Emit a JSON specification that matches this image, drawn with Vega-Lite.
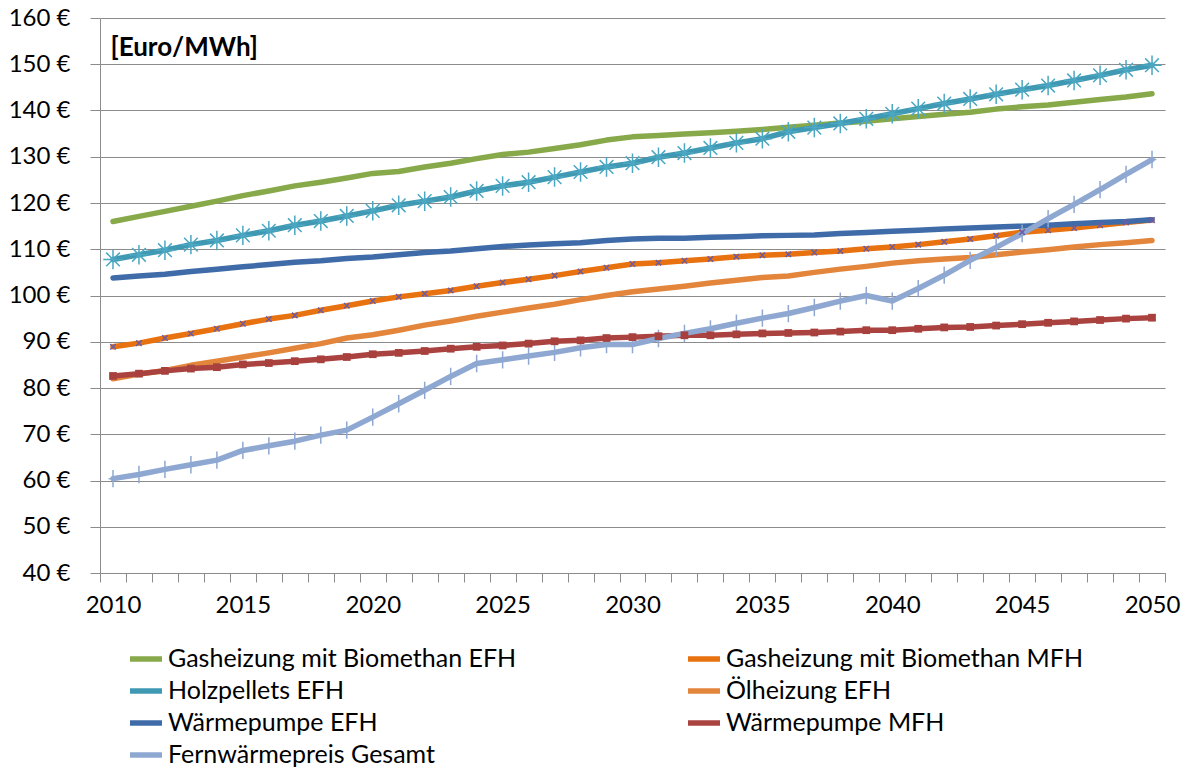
{
  "$schema": "https://vega.github.io/schema/vega-lite/v6.json",
  "width": 1065,
  "height": 555,
  "autosize": "none",
  "padding": {"left": 100, "top": 18, "right": 25, "bottom": 198},
  "background": "white",
  "config": {
    "view": {"stroke": null},
    "font": "Lato",
    "axis": {"labelFont": "Lato", "titleFont": "Lato", "labelColor": "black", "titleColor": "black"},
    "legend": {"labelFont": "Lato"}
  },
  "data": {
    "values": [
      {"year": 2010, "Gasheizung mit Biomethan EFH": 116.0, "Gasheizung mit Biomethan MFH": 88.9, "Holzpellets EFH": 107.8, "Ölheizung EFH": 82.0, "Wärmepumpe EFH": 103.8, "Wärmepumpe MFH": 82.6, "Fernwärmepreis Gesamt": 60.4},
      {"year": 2011, "Gasheizung mit Biomethan EFH": 117.1, "Gasheizung mit Biomethan MFH": 89.7, "Holzpellets EFH": 108.8, "Ölheizung EFH": 83.0, "Wärmepumpe EFH": 104.2, "Wärmepumpe MFH": 83.1, "Fernwärmepreis Gesamt": 61.3},
      {"year": 2012, "Gasheizung mit Biomethan EFH": 118.2, "Gasheizung mit Biomethan MFH": 90.8, "Holzpellets EFH": 109.8, "Ölheizung EFH": 83.8, "Wärmepumpe EFH": 104.6, "Wärmepumpe MFH": 83.7, "Fernwärmepreis Gesamt": 62.4},
      {"year": 2013, "Gasheizung mit Biomethan EFH": 119.3, "Gasheizung mit Biomethan MFH": 91.8, "Holzpellets EFH": 111.0, "Ölheizung EFH": 84.9, "Wärmepumpe EFH": 105.2, "Wärmepumpe MFH": 84.2, "Fernwärmepreis Gesamt": 63.4},
      {"year": 2014, "Gasheizung mit Biomethan EFH": 120.4, "Gasheizung mit Biomethan MFH": 92.8, "Holzpellets EFH": 111.9, "Ölheizung EFH": 85.8, "Wärmepumpe EFH": 105.7, "Wärmepumpe MFH": 84.5, "Fernwärmepreis Gesamt": 64.4},
      {"year": 2015, "Gasheizung mit Biomethan EFH": 121.6, "Gasheizung mit Biomethan MFH": 93.9, "Holzpellets EFH": 113.0, "Ölheizung EFH": 86.7, "Wärmepumpe EFH": 106.2, "Wärmepumpe MFH": 85.1, "Fernwärmepreis Gesamt": 66.5},
      {"year": 2016, "Gasheizung mit Biomethan EFH": 122.6, "Gasheizung mit Biomethan MFH": 94.9, "Holzpellets EFH": 114.0, "Ölheizung EFH": 87.6, "Wärmepumpe EFH": 106.7, "Wärmepumpe MFH": 85.4, "Fernwärmepreis Gesamt": 67.5},
      {"year": 2017, "Gasheizung mit Biomethan EFH": 123.7, "Gasheizung mit Biomethan MFH": 95.7, "Holzpellets EFH": 115.2, "Ölheizung EFH": 88.6, "Wärmepumpe EFH": 107.2, "Wärmepumpe MFH": 85.8, "Fernwärmepreis Gesamt": 68.5},
      {"year": 2018, "Gasheizung mit Biomethan EFH": 124.5, "Gasheizung mit Biomethan MFH": 96.8, "Holzpellets EFH": 116.1, "Ölheizung EFH": 89.6, "Wärmepumpe EFH": 107.5, "Wärmepumpe MFH": 86.2, "Fernwärmepreis Gesamt": 69.8},
      {"year": 2019, "Gasheizung mit Biomethan EFH": 125.4, "Gasheizung mit Biomethan MFH": 97.8, "Holzpellets EFH": 117.2, "Ölheizung EFH": 90.8, "Wärmepumpe EFH": 108.0, "Wärmepumpe MFH": 86.7, "Fernwärmepreis Gesamt": 70.9},
      {"year": 2020, "Gasheizung mit Biomethan EFH": 126.4, "Gasheizung mit Biomethan MFH": 98.8, "Holzpellets EFH": 118.3, "Ölheizung EFH": 91.5, "Wärmepumpe EFH": 108.3, "Wärmepumpe MFH": 87.3, "Fernwärmepreis Gesamt": 73.7},
      {"year": 2021, "Gasheizung mit Biomethan EFH": 126.8, "Gasheizung mit Biomethan MFH": 99.7, "Holzpellets EFH": 119.5, "Ölheizung EFH": 92.5, "Wärmepumpe EFH": 108.8, "Wärmepumpe MFH": 87.6, "Fernwärmepreis Gesamt": 76.6},
      {"year": 2022, "Gasheizung mit Biomethan EFH": 127.8, "Gasheizung mit Biomethan MFH": 100.4, "Holzpellets EFH": 120.4, "Ölheizung EFH": 93.6, "Wärmepumpe EFH": 109.3, "Wärmepumpe MFH": 88.0, "Fernwärmepreis Gesamt": 79.5},
      {"year": 2023, "Gasheizung mit Biomethan EFH": 128.6, "Gasheizung mit Biomethan MFH": 101.1, "Holzpellets EFH": 121.3, "Ölheizung EFH": 94.5, "Wärmepumpe EFH": 109.6, "Wärmepumpe MFH": 88.5, "Fernwärmepreis Gesamt": 82.5},
      {"year": 2024, "Gasheizung mit Biomethan EFH": 129.6, "Gasheizung mit Biomethan MFH": 102.0, "Holzpellets EFH": 122.6, "Ölheizung EFH": 95.5, "Wärmepumpe EFH": 110.1, "Wärmepumpe MFH": 88.9, "Fernwärmepreis Gesamt": 85.3},
      {"year": 2025, "Gasheizung mit Biomethan EFH": 130.5, "Gasheizung mit Biomethan MFH": 102.8, "Holzpellets EFH": 123.7, "Ölheizung EFH": 96.4, "Wärmepumpe EFH": 110.6, "Wärmepumpe MFH": 89.2, "Fernwärmepreis Gesamt": 86.1},
      {"year": 2026, "Gasheizung mit Biomethan EFH": 131.0, "Gasheizung mit Biomethan MFH": 103.5, "Holzpellets EFH": 124.5, "Ölheizung EFH": 97.3, "Wärmepumpe EFH": 110.9, "Wärmepumpe MFH": 89.6, "Fernwärmepreis Gesamt": 86.9},
      {"year": 2027, "Gasheizung mit Biomethan EFH": 131.8, "Gasheizung mit Biomethan MFH": 104.3, "Holzpellets EFH": 125.6, "Ölheizung EFH": 98.1, "Wärmepumpe EFH": 111.2, "Wärmepumpe MFH": 90.1, "Fernwärmepreis Gesamt": 87.7},
      {"year": 2028, "Gasheizung mit Biomethan EFH": 132.6, "Gasheizung mit Biomethan MFH": 105.2, "Holzpellets EFH": 126.7, "Ölheizung EFH": 99.1, "Wärmepumpe EFH": 111.4, "Wärmepumpe MFH": 90.3, "Fernwärmepreis Gesamt": 88.7},
      {"year": 2029, "Gasheizung mit Biomethan EFH": 133.6, "Gasheizung mit Biomethan MFH": 106.0, "Holzpellets EFH": 127.8, "Ölheizung EFH": 100.0, "Wärmepumpe EFH": 111.9, "Wärmepumpe MFH": 90.8, "Fernwärmepreis Gesamt": 89.4},
      {"year": 2030, "Gasheizung mit Biomethan EFH": 134.3, "Gasheizung mit Biomethan MFH": 106.8, "Holzpellets EFH": 128.6, "Ölheizung EFH": 100.8, "Wärmepumpe EFH": 112.2, "Wärmepumpe MFH": 91.0, "Fernwärmepreis Gesamt": 89.4},
      {"year": 2031, "Gasheizung mit Biomethan EFH": 134.6, "Gasheizung mit Biomethan MFH": 107.1, "Holzpellets EFH": 129.9, "Ölheizung EFH": 101.4, "Wärmepumpe EFH": 112.4, "Wärmepumpe MFH": 91.2, "Fernwärmepreis Gesamt": 90.7},
      {"year": 2032, "Gasheizung mit Biomethan EFH": 134.9, "Gasheizung mit Biomethan MFH": 107.5, "Holzpellets EFH": 130.8, "Ölheizung EFH": 102.0, "Wärmepumpe EFH": 112.4, "Wärmepumpe MFH": 91.4, "Fernwärmepreis Gesamt": 91.8},
      {"year": 2033, "Gasheizung mit Biomethan EFH": 135.2, "Gasheizung mit Biomethan MFH": 107.9, "Holzpellets EFH": 131.9, "Ölheizung EFH": 102.7, "Wärmepumpe EFH": 112.6, "Wärmepumpe MFH": 91.4, "Fernwärmepreis Gesamt": 92.8},
      {"year": 2034, "Gasheizung mit Biomethan EFH": 135.5, "Gasheizung mit Biomethan MFH": 108.4, "Holzpellets EFH": 133.0, "Ölheizung EFH": 103.3, "Wärmepumpe EFH": 112.7, "Wärmepumpe MFH": 91.6, "Fernwärmepreis Gesamt": 94.0},
      {"year": 2035, "Gasheizung mit Biomethan EFH": 135.9, "Gasheizung mit Biomethan MFH": 108.7, "Holzpellets EFH": 133.9, "Ölheizung EFH": 103.9, "Wärmepumpe EFH": 112.9, "Wärmepumpe MFH": 91.8, "Fernwärmepreis Gesamt": 95.1},
      {"year": 2036, "Gasheizung mit Biomethan EFH": 136.4, "Gasheizung mit Biomethan MFH": 108.9, "Holzpellets EFH": 135.4, "Ölheizung EFH": 104.2, "Wärmepumpe EFH": 113.0, "Wärmepumpe MFH": 91.9, "Fernwärmepreis Gesamt": 96.1},
      {"year": 2037, "Gasheizung mit Biomethan EFH": 136.8, "Gasheizung mit Biomethan MFH": 109.3, "Holzpellets EFH": 136.3, "Ölheizung EFH": 105.0, "Wärmepumpe EFH": 113.1, "Wärmepumpe MFH": 92.0, "Fernwärmepreis Gesamt": 97.4},
      {"year": 2038, "Gasheizung mit Biomethan EFH": 137.3, "Gasheizung mit Biomethan MFH": 109.6, "Holzpellets EFH": 137.2, "Ölheizung EFH": 105.7, "Wärmepumpe EFH": 113.4, "Wärmepumpe MFH": 92.2, "Fernwärmepreis Gesamt": 98.8},
      {"year": 2039, "Gasheizung mit Biomethan EFH": 137.7, "Gasheizung mit Biomethan MFH": 110.1, "Holzpellets EFH": 138.2, "Ölheizung EFH": 106.3, "Wärmepumpe EFH": 113.6, "Wärmepumpe MFH": 92.5, "Fernwärmepreis Gesamt": 100.0},
      {"year": 2040, "Gasheizung mit Biomethan EFH": 138.2, "Gasheizung mit Biomethan MFH": 110.5, "Holzpellets EFH": 139.3, "Ölheizung EFH": 107.0, "Wärmepumpe EFH": 113.9, "Wärmepumpe MFH": 92.5, "Fernwärmepreis Gesamt": 98.8},
      {"year": 2041, "Gasheizung mit Biomethan EFH": 138.7, "Gasheizung mit Biomethan MFH": 111.0, "Holzpellets EFH": 140.4, "Ölheizung EFH": 107.5, "Wärmepumpe EFH": 114.1, "Wärmepumpe MFH": 92.8, "Fernwärmepreis Gesamt": 101.5},
      {"year": 2042, "Gasheizung mit Biomethan EFH": 139.2, "Gasheizung mit Biomethan MFH": 111.6, "Holzpellets EFH": 141.5, "Ölheizung EFH": 107.9, "Wärmepumpe EFH": 114.4, "Wärmepumpe MFH": 93.1, "Fernwärmepreis Gesamt": 104.4},
      {"year": 2043, "Gasheizung mit Biomethan EFH": 139.6, "Gasheizung mit Biomethan MFH": 112.2, "Holzpellets EFH": 142.5, "Ölheizung EFH": 108.2, "Wärmepumpe EFH": 114.6, "Wärmepumpe MFH": 93.2, "Fernwärmepreis Gesamt": 107.6},
      {"year": 2044, "Gasheizung mit Biomethan EFH": 140.3, "Gasheizung mit Biomethan MFH": 112.9, "Holzpellets EFH": 143.5, "Ölheizung EFH": 108.8, "Wärmepumpe EFH": 114.8, "Wärmepumpe MFH": 93.5, "Fernwärmepreis Gesamt": 110.4},
      {"year": 2045, "Gasheizung mit Biomethan EFH": 140.8, "Gasheizung mit Biomethan MFH": 113.7, "Holzpellets EFH": 144.5, "Ölheizung EFH": 109.4, "Wärmepumpe EFH": 115.0, "Wärmepumpe MFH": 93.8, "Fernwärmepreis Gesamt": 113.4},
      {"year": 2046, "Gasheizung mit Biomethan EFH": 141.2, "Gasheizung mit Biomethan MFH": 114.1, "Holzpellets EFH": 145.4, "Ölheizung EFH": 109.9, "Wärmepumpe EFH": 115.2, "Wärmepumpe MFH": 94.1, "Fernwärmepreis Gesamt": 116.6},
      {"year": 2047, "Gasheizung mit Biomethan EFH": 141.8, "Gasheizung mit Biomethan MFH": 114.6, "Holzpellets EFH": 146.5, "Ölheizung EFH": 110.5, "Wärmepumpe EFH": 115.5, "Wärmepumpe MFH": 94.4, "Fernwärmepreis Gesamt": 119.7},
      {"year": 2048, "Gasheizung mit Biomethan EFH": 142.4, "Gasheizung mit Biomethan MFH": 115.2, "Holzpellets EFH": 147.6, "Ölheizung EFH": 111.0, "Wärmepumpe EFH": 115.8, "Wärmepumpe MFH": 94.7, "Fernwärmepreis Gesamt": 122.9},
      {"year": 2049, "Gasheizung mit Biomethan EFH": 142.9, "Gasheizung mit Biomethan MFH": 115.8, "Holzpellets EFH": 148.8, "Ölheizung EFH": 111.4, "Wärmepumpe EFH": 116.0, "Wärmepumpe MFH": 95.0, "Fernwärmepreis Gesamt": 126.2},
      {"year": 2050, "Gasheizung mit Biomethan EFH": 143.6, "Gasheizung mit Biomethan MFH": 116.3, "Holzpellets EFH": 149.8, "Ölheizung EFH": 111.9, "Wärmepumpe EFH": 116.4, "Wärmepumpe MFH": 95.2, "Fernwärmepreis Gesamt": 129.4}
    ]
  },
  "transform": [
    {"fold": ["Gasheizung mit Biomethan EFH", "Gasheizung mit Biomethan MFH", "Holzpellets EFH", "Ölheizung EFH", "Wärmepumpe EFH", "Wärmepumpe MFH", "Fernwärmepreis Gesamt"], "as": ["series", "value"]}
  ],
  "encoding": {
    "x": {
      "field": "year",
      "type": "ordinal",
      "scale": {"type": "band", "paddingInner": 0, "paddingOuter": 0},
      "axis": {
        "title": null,
        "labelAngle": 0,
        "tickBand": "extent",
        "tickSize": 9,
        "tickColor": "#8c8c8c",
        "domainColor": "#8c8c8c",
        "grid": false,
        "labelOverlap": false,
        "labelExpr": "datum.value % 5 === 0 ? datum.label : ''",
        "labelFontSize": 24,
        "labelPadding": 11
      }
    },
    "y": {
      "field": "value",
      "type": "quantitative",
      "scale": {"domain": [40, 160], "nice": false, "zero": false},
      "axis": {
        "values": [40, 50, 60, 70, 80, 90, 100, 110, 120, 130, 140, 150, 160],
        "labelExpr": "datum.value + ' €'",
        "grid": true,
        "gridColor": "#8c8c8c",
        "gridWidth": 1,
        "tickSize": 10,
        "tickColor": "#8c8c8c",
        "domainColor": "#8c8c8c",
        "labelFontSize": 24,
        "labelPadding": 20,
        "title": "[Euro/MWh]",
        "titleAngle": 0,
        "titleX": 10,
        "titleY": 29,
        "titleAlign": "left",
        "titleBaseline": "middle",
        "titleFontSize": 26,
        "titleFontWeight": "bold"
      }
    }
  },
  "layer": [
    {
      "mark": {"type": "line", "strokeWidth": 5.5, "strokeCap": "round", "strokeJoin": "round"},
      "encoding": {
        "color": {
          "field": "series",
          "type": "nominal",
          "scale": {
            "domain": ["Gasheizung mit Biomethan EFH", "Holzpellets EFH", "Wärmepumpe EFH", "Fernwärmepreis Gesamt", "Gasheizung mit Biomethan MFH", "Ölheizung EFH", "Wärmepumpe MFH"],
            "range": ["#87A94A", "#4099B3", "#3F6CA8", "#8EA8D2", "#E8720F", "#E3853B", "#AA4340"]
          },
          "legend": {
            "title": null,
            "orient": "none",
            "legendX": 27,
            "legendY": 622,
            "columns": 2,
            "columnPadding": 160,
            "rowPadding": 0,
            "padding": 0,
            "symbolType": "stroke",
            "symbolSize": 1024,
            "symbolStrokeWidth": 5.5,
            "labelFontSize": 25,
            "labelOffset": 3,
            "labelLimit": 0,
            "labelColor": "black"
          }
        },
        "order": {"field": "year", "type": "quantitative"}
      }
    },
    {
      "transform": [{"filter": "datum.series === 'Holzpellets EFH'"}],
      "mark": {"type": "point", "shape": "M-1,0L1,0M0,-1L0,1M-0.7,-0.7L0.7,0.7M-0.7,0.7L0.7,-0.7", "filled": false, "stroke": "#4BA7C2", "strokeWidth": 1.5, "size": 380, "opacity": 1}
    },
    {
      "transform": [{"filter": "datum.series === 'Fernwärmepreis Gesamt'"}],
      "mark": {"type": "point", "shape": "M0,-1L0,1M-0.5,0L0.5,0", "filled": false, "stroke": "#8EA8D2", "strokeWidth": 1.5, "size": 300, "opacity": 1}
    },
    {
      "transform": [{"filter": "datum.series === 'Gasheizung mit Biomethan MFH'"}],
      "mark": {"type": "point", "shape": "M-1,-1L1,1M-1,1L1,-1", "filled": false, "stroke": "#6A5CA5", "strokeWidth": 1.5, "size": 30, "opacity": 1}
    },
    {
      "transform": [{"filter": "datum.series === 'Wärmepumpe MFH'"}],
      "mark": {"type": "point", "shape": "square", "filled": true, "fill": "#A8403D", "size": 60, "opacity": 1}
    }
  ]
}
